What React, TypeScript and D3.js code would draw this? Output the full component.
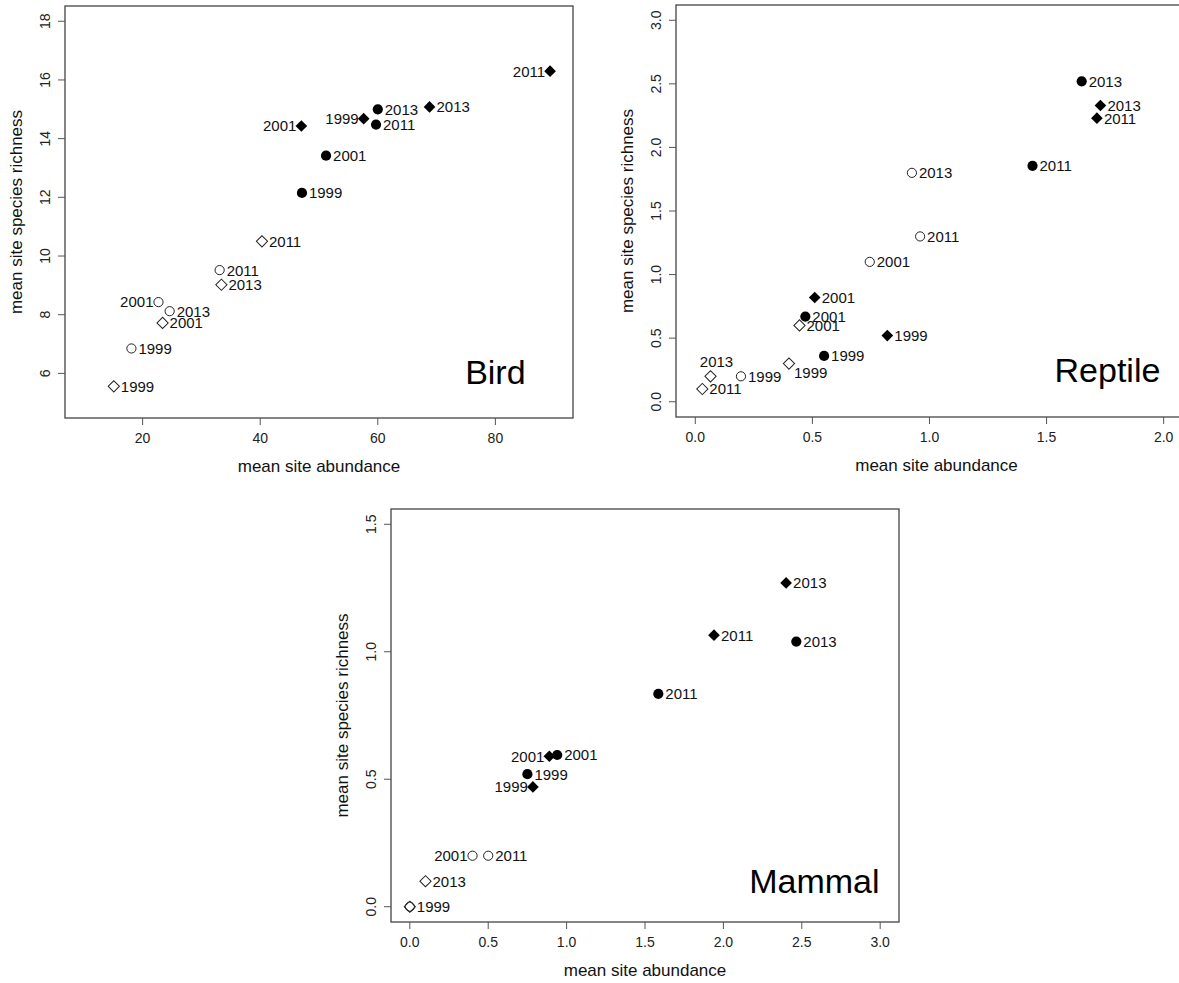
import React from "react";
import * as d3 from "d3";

// pos: label side as in R's text(pos=...) -> "l" left, "r" right, "a" above, "br" below right, "n" hidden under another label
type Pt = { year: string; x: number; y: number; pos: string };

const birdOpenDiamond: Pt[] = [
  { year: "1999", x: 15.1, y: 5.56, pos: "r" },
  { year: "2001", x: 23.4, y: 7.72, pos: "r" },
  { year: "2011", x: 40.3, y: 10.5, pos: "r" },
  { year: "2013", x: 33.4, y: 9.02, pos: "r" },
];
const birdOpenCircle: Pt[] = [
  { year: "1999", x: 18.1, y: 6.85, pos: "r" },
  { year: "2001", x: 22.7, y: 8.43, pos: "l" },
  { year: "2011", x: 33.1, y: 9.52, pos: "r" },
  { year: "2013", x: 24.6, y: 8.12, pos: "r" },
];
const birdFilledCircle: Pt[] = [
  { year: "1999", x: 47.1, y: 12.15, pos: "r" },
  { year: "2001", x: 51.2, y: 13.42, pos: "r" },
  { year: "2011", x: 59.7, y: 14.48, pos: "r" },
  { year: "2013", x: 60.0, y: 15.0, pos: "r" },
];
const birdFilledDiamond: Pt[] = [
  { year: "1999", x: 57.6, y: 14.68, pos: "l" },
  { year: "2001", x: 47.0, y: 14.43, pos: "l" },
  { year: "2011", x: 89.3, y: 16.3, pos: "l" },
  { year: "2013", x: 68.8, y: 15.08, pos: "r" },
];

const reptileOpenDiamond: Pt[] = [
  { year: "1999", x: 0.4, y: 0.3, pos: "br" },
  { year: "2001", x: 0.445, y: 0.6, pos: "r" },
  { year: "2011", x: 0.03, y: 0.1, pos: "r" },
  { year: "2013", x: 0.065, y: 0.2, pos: "a" },
];
const reptileOpenCircle: Pt[] = [
  { year: "1999", x: 0.195, y: 0.2, pos: "r" },
  { year: "2001", x: 0.745, y: 1.1, pos: "r" },
  { year: "2011", x: 0.96, y: 1.3, pos: "r" },
  { year: "2013", x: 0.925, y: 1.8, pos: "r" },
];
const reptileFilledCircle: Pt[] = [
  { year: "1999", x: 0.55, y: 0.36, pos: "r" },
  { year: "2001", x: 0.47, y: 0.67, pos: "r" },
  { year: "2011", x: 1.44, y: 1.855, pos: "r" },
  { year: "2013", x: 1.65, y: 2.52, pos: "r" },
];
const reptileFilledDiamond: Pt[] = [
  { year: "1999", x: 0.82, y: 0.52, pos: "r" },
  { year: "2001", x: 0.51, y: 0.82, pos: "r" },
  { year: "2011", x: 1.715, y: 2.23, pos: "r" },
  { year: "2013", x: 1.73, y: 2.33, pos: "r" },
];

const mammalOpenDiamond: Pt[] = [
  { year: "1999", x: 0, y: 0, pos: "r" },
  { year: "2013", x: 0.1, y: 0.1, pos: "r" },
];
const mammalOpenCircle: Pt[] = [
  { year: "1999", x: 0, y: 0, pos: "n" },
  { year: "2001", x: 0.4, y: 0.2, pos: "l" },
  { year: "2011", x: 0.5, y: 0.2, pos: "r" },
];
const mammalFilledCircle: Pt[] = [
  { year: "1999", x: 0.75, y: 0.52, pos: "r" },
  { year: "2001", x: 0.94, y: 0.595, pos: "r" },
  { year: "2011", x: 1.585, y: 0.835, pos: "r" },
  { year: "2013", x: 2.465, y: 1.04, pos: "r" },
];
const mammalFilledDiamond: Pt[] = [
  { year: "1999", x: 0.785, y: 0.47, pos: "l" },
  { year: "2001", x: 0.89, y: 0.59, pos: "l" },
  { year: "2011", x: 1.94, y: 1.065, pos: "r" },
  { year: "2013", x: 2.4, y: 1.27, pos: "r" },
];

const birdXTicks = [20, 40, 60, 80];
const birdYTicks = [6, 8, 10, 12, 14, 16, 18];
const reptileXTicks = [0, 0.5, 1, 1.5, 2];
const reptileYTicks = [0, 0.5, 1, 1.5, 2, 2.5, 3];
const mammalXTicks = [0, 0.5, 1, 1.5, 2, 2.5, 3];
const mammalYTicks = [0, 0.5, 1, 1.5];

const FONT = "'Liberation Sans', Arial, Helvetica, sans-serif";

// R style axis: limits widened by 4% on each side
const ext = (lim: number[]) => {
  const d = (lim[1] - lim[0]) * 0.04;
  return [lim[0] - d, lim[1] + d];
};

const diamond = d3.symbol(d3.symbolSquare, 63)();
const filledDiamondPath = d3.symbol(d3.symbolSquare, 68)();

function Marker({ kind, x, y }: { kind: string; x: number; y: number }) {
  if (kind === "oc")
    return <circle cx={x} cy={y} r={4.6} fill="none" stroke="#222" strokeWidth={1} />;
  if (kind === "fc") return <circle cx={x} cy={y} r={5.1} fill="#000" />;
  if (kind === "od")
    return (
      <path
        d={diamond!}
        transform={`translate(${x},${y}) rotate(45)`}
        fill="none"
        stroke="#222"
        strokeWidth={1}
      />
    );
  return <path d={filledDiamondPath!} transform={`translate(${x},${y}) rotate(45)`} fill="#000" />;
}

function Label({ p, x, y }: { p: Pt; x: number; y: number }) {
  if (p.pos === "n") return null;
  let tx = x + 7,
    ty = y,
    anchor = "start";
  if (p.pos === "l") {
    tx = x - 5;
    anchor = "end";
  } else if (p.pos === "a") {
    tx = x + 6;
    ty = y - 15;
    anchor = "middle";
  } else if (p.pos === "br") {
    tx = x + 5;
    ty = y + 9;
  }
  return (
    <text x={tx} y={ty} dy="0.36em" textAnchor={anchor} fontSize={15} fill="#111">
      {p.year}
    </text>
  );
}

type PanelProps = {
  name: string;
  nameAt: [number, number];
  groups: { kind: string; pts: Pt[] }[];
  xlim: number[];
  ylim: number[];
  xTicks: number[];
  yTicks: number[];
  fmt: (v: number) => string;
  box: { x0: number; x1: number; y0: number; y1: number };
};

function Panel({ name, nameAt, groups, xlim, ylim, xTicks, yTicks, fmt, box }: PanelProps) {
  const x = d3.scaleLinear().domain(ext(xlim)).range([box.x0, box.x1]);
  const y = d3.scaleLinear().domain(ext(ylim)).range([box.y1, box.y0]);
  const cy = (box.y0 + box.y1) / 2;
  const cx = (box.x0 + box.x1) / 2;
  return (
    <g fontFamily={FONT}>
      <rect
        x={box.x0}
        y={box.y0}
        width={box.x1 - box.x0}
        height={box.y1 - box.y0}
        fill="none"
        stroke="#444"
        strokeWidth={1.3}
      />
      {xTicks.map((t) => (
        <g key={"x" + t}>
          <line x1={x(t)} x2={x(t)} y1={box.y1} y2={box.y1 + 7} stroke="#555" />
          <text x={x(t)} y={box.y1 + 20} dy="0.36em" textAnchor="middle" fontSize={14} fill="#222">
            {fmt(t)}
          </text>
        </g>
      ))}
      {yTicks.map((t) => (
        <g key={"y" + t}>
          <line x1={box.x0} x2={box.x0 - 7} y1={y(t)} y2={y(t)} stroke="#555" />
          <text
            transform={`translate(${box.x0 - 20},${y(t)}) rotate(-90)`}
            dy="0.36em"
            textAnchor="middle"
            fontSize={14}
            fill="#222"
          >
            {fmt(t)}
          </text>
        </g>
      ))}
      <text x={cx} y={box.y1 + 48} dy="0.36em" textAnchor="middle" fontSize={17} fill="#111">
        mean site abundance
      </text>
      <text
        transform={`translate(${box.x0 - 49},${cy}) rotate(-90)`}
        dy="0.36em"
        textAnchor="middle"
        fontSize={17}
        fill="#111"
      >
        mean site species richness
      </text>
      {groups.map((g) =>
        g.pts.map((p, i) => (
          <g key={g.kind + i}>
            <Marker kind={g.kind} x={x(p.x)} y={y(p.y)} />
            <Label p={p} x={x(p.x)} y={y(p.y)} />
          </g>
        ))
      )}
      <text x={x(nameAt[0])} y={y(nameAt[1])} dy="0.36em" textAnchor="middle" fontSize={34} fill="#000">
        {name}
      </text>
    </g>
  );
}

export default function App() {
  const f1 = (v: number) => d3.format(".1f")(v);
  const f0 = (v: number) => String(v);
  return (
    <svg
      width={1179}
      height={983}
      style={{ position: "absolute", left: 0, top: 0, background: "#fff" }}
    >
      <rect width={1179} height={983} fill="#fff" />
      <Panel
        name="Bird"
        nameAt={[80, 6.05]}
        groups={[
          { kind: "od", pts: birdOpenDiamond },
          { kind: "oc", pts: birdOpenCircle },
          { kind: "fc", pts: birdFilledCircle },
          { kind: "fd", pts: birdFilledDiamond },
        ]}
        xlim={[10, 90]}
        ylim={[5, 18]}
        xTicks={birdXTicks}
        yTicks={birdYTicks}
        fmt={f0}
        box={{ x0: 65, x1: 573, y0: 6, y1: 418 }}
      />
      <Panel
        name="Reptile"
        nameAt={[1.76, 0.25]}
        groups={[
          { kind: "od", pts: reptileOpenDiamond },
          { kind: "oc", pts: reptileOpenCircle },
          { kind: "fc", pts: reptileFilledCircle },
          { kind: "fd", pts: reptileFilledDiamond },
        ]}
        xlim={[0, 2.06]}
        ylim={[0, 3]}
        xTicks={reptileXTicks}
        yTicks={reptileYTicks}
        fmt={f1}
        box={{ x0: 676, x1: 1197, y0: 5, y1: 417 }}
      />
      <Panel
        name="Mammal"
        nameAt={[2.58, 0.1]}
        groups={[
          { kind: "od", pts: mammalOpenDiamond },
          { kind: "oc", pts: mammalOpenCircle },
          { kind: "fc", pts: mammalFilledCircle },
          { kind: "fd", pts: mammalFilledDiamond },
        ]}
        xlim={[0, 3]}
        ylim={[0, 1.5]}
        xTicks={mammalXTicks}
        yTicks={mammalYTicks}
        fmt={f1}
        box={{ x0: 391, x1: 899, y0: 509, y1: 922 }}
      />
    </svg>
  );
}
